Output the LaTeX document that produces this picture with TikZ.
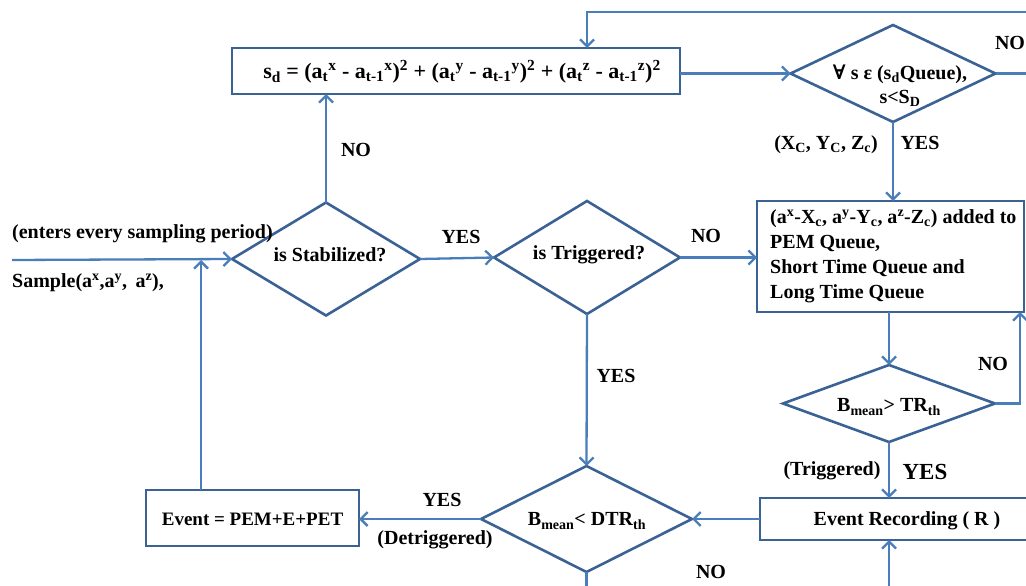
\documentclass[tikz,border=0pt]{standalone}
\usepackage{fontspec}
\setmainfont{Liberation Serif}
\newfontfamily\symfont{DejaVu Serif}
\usetikzlibrary{shapes.geometric,arrows.meta,calc}
\definecolor{lineblue}{RGB}{74,126,187}
\definecolor{boxblue}{RGB}{58,98,148}
\newcommand{\sbs}[1]{\textsubscript{#1}}
\newcommand{\sps}[1]{\textsuperscript{#1}}
\begin{document}
\begin{tikzpicture}[x=1pt,y=-1pt,
 arr/.style={draw=lineblue, line width=2.3pt, -{Straight Barb[length=7pt,width=14pt]}},
 ln/.style={draw=lineblue, line width=2.3pt},
 box/.style={draw=boxblue, line width=2.6pt, rectangle, inner sep=0pt, outer sep=0pt},
 dia/.style={draw=boxblue, line width=2.6pt, diamond, inner sep=0pt, outer sep=0pt},
 txt/.style={font=\fontsize{20}{24}\selectfont\bfseries, inner sep=0pt},
]
\useasboundingbox (0,0) rectangle (1026,586);
\clip (0,0) rectangle (1026,586);

% boxes
\node[box, minimum width=448pt, minimum height=46pt] (sd) at (456,71) {};
\node[box, minimum width=267pt, minimum height=111pt] (b2) at (890.5,256.5) {};
\node[box, minimum width=280pt, minimum height=42pt] (b4) at (900,519) {};
\node[box, minimum width=213pt, minimum height=56pt] (b5) at (252.5,518) {};

% diamonds
\node[dia, minimum width=188pt, minimum height=113pt] (ds) at (326,259) {};
\node[dia, minimum width=186pt, minimum height=113pt] (dt) at (587,257.5) {};
\node[dia, minimum width=205pt, minimum height=97pt] (dq) at (893,73.5) {};
\node[dia, minimum width=212pt, minimum height=77pt] (db1) at (889,403.5) {};
\node[dia, minimum width=211pt, minimum height=106pt] (db2) at (586.5,519) {};

% texts in shapes
\node[txt, font=\fontsize{22}{24}\selectfont\bfseries] (tsd) at (462,72) {s\sbs{d} = (a\sbs{t}\sps{x} - a\sbs{t-1}\sps{x})\sps{2} + (a\sbs{t}\sps{y} - a\sbs{t-1}\sps{y})\sps{2} + (a\sbs{t}\sps{z} - a\sbs{t-1}\sps{z})\sps{2}};
\node[txt, font=\fontsize{20}{25}\selectfont\bfseries, anchor=west, align=left] (tb2) at (770,256.5) {(a\sps{x}-X\sbs{c}, a\sps{y}-Y\sbs{c}, a\sps{z}-Z\sbs{c}) added to\\PEM Queue,\\Short Time Queue and\\Long Time Queue};
\node[txt] (tb4) at (907,521) {Event Recording ( R )};
\node[txt, font=\fontsize{19}{24}\selectfont\bfseries] (tb5) at (252.5,519) {Event = PEM+E+PET};
\node[txt] (tds) at (330,255) {is Stabilized?};
\node[txt] (tdt) at (589,255) {is Triggered?};
\node[txt, align=center] (tdq) at (900,86) {{\symfont ∀} s ε (s\sbs{d}Queue),\\s<S\sbs{D}};
\node[txt] (tdb1) at (889,407) {B\sbs{mean}> TR\sbs{th}};
\node[txt] (tdb2) at (587,521) {B\sbs{mean}< DTR\sbs{th}};

% free ends
\coordinate (in) at (12,260);
\coordinate (tr) at (1040,12);
\coordinate (tl) at (587,12);
\coordinate (qe) at (1040,73.5);
\coordinate (rx) at (1020,0);
\coordinate (bb) at (889,600);
\coordinate (db2e) at (586.5,600);
\coordinate (up) at (201,260);

% connectors
\draw[arr] (in) -- (ds.west);
\draw[arr] (ds.north) -- (ds.north |- sd.south);
\draw[arr] (sd.east |- dq.west) -- (dq.west);
\draw[arr] (tr) -- (tl) -- (tl |- sd.north);
\draw[ln] (dq.east) -- (qe);
\draw[arr] (dq.south) -- (dq.south |- b2.north);
\draw[arr] (ds.east) -- (dt.west);
\draw[arr] (dt.east) -- (dt.east -| b2.west);
\draw[arr] (dt.south) -- (db2.north);
\draw[arr] (b2.south -| db1.north) -- (db1.north);
\draw[arr] (db1.east) -| (rx |- b2.south);
\draw[arr] (db1.south) -- (db1.south |- b4.north);
\draw[arr] (bb) -- (bb |- b4.south);
\draw[arr] (b4.west) -- (db2.east);
\draw[arr] (db2.west) -- (db2.west -| b5.east);
\draw[ln] (db2.south) -- (db2e);
\draw[arr] (b5.north -| up) -- (up);

% labels
\node[txt, anchor=west] (l1) at (12,234) {(enters every sampling period)};
\node[txt, anchor=west] (l2) at (12,283) {Sample(a\sps{x},a\sps{y},\, a\sps{z}),};
\node[txt] (l3) at (356,150) {NO};
\node[txt] (l4) at (461,237) {YES};
\node[txt] (l5) at (706,236) {NO};
\node[txt] (l6) at (616,376) {YES};
\node[txt] (l7) at (826,145) {(X\sbs{C}, Y\sbs{C}, Z\sbs{c})};
\node[txt] (l8) at (920,143) {YES};
\node[txt] (l9) at (1010,43) {NO};
\node[txt] (l10) at (993,364) {NO};
\node[txt] (l11) at (832,471) {(Triggered)};
\node[txt, font=\fontsize{23}{24}\selectfont\bfseries] (l12) at (925,472) {YES};
\node[txt] (l13) at (442,500) {YES};
\node[txt] (l14) at (435,540) {(Detriggered)};
\node[txt] (l15) at (711,572) {NO};
\end{tikzpicture}
\end{document}
